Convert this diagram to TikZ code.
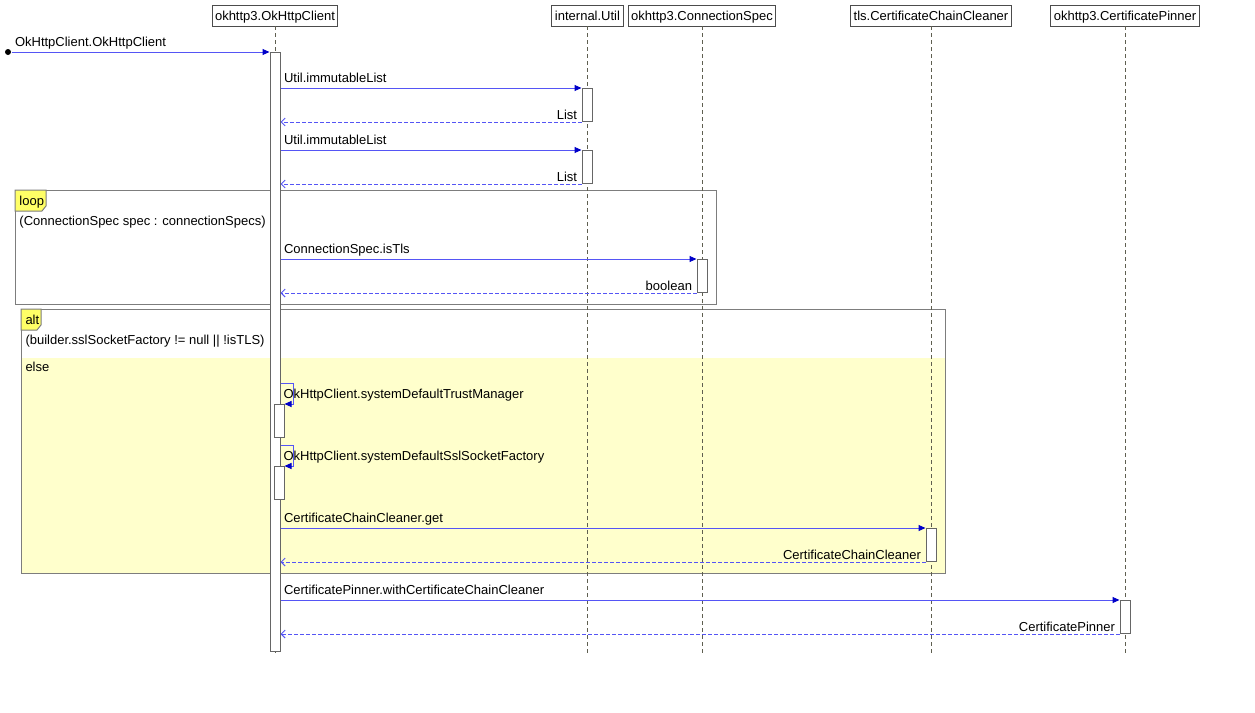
\documentclass[tikz,border=0pt]{standalone}
\usepackage{fontspec}
\setmainfont{Liberation Sans}
\usetikzlibrary{arrows.meta}
\definecolor{msgline}{RGB}{85,85,245}
\definecolor{msgtip}{RGB}{0,0,200}
\definecolor{lifecol}{RGB}{95,95,80}
\definecolor{framecol}{RGB}{125,125,125}
\definecolor{tabcol}{RGB}{255,255,102}
\definecolor{elsecol}{RGB}{255,255,204}
\tikzset{
  txt/.style={font=\fontsize{13pt}{15pt}\selectfont, inner sep=0pt},
  head/.style={txt, draw=black!70, fill=white, minimum height=21pt, inner xsep=3pt,
    text height=11pt, text depth=2pt},
  act/.style={draw=black!60, fill=white, minimum width=10pt, inner sep=0pt, anchor=north},
  lifeline/.style={draw=lifecol, dash pattern=on 4pt off 3pt},
  call/.style={draw=msgline, -{Triangle[length=7pt,width=6pt,color=msgtip]}},
  ret/.style={draw=msgline, dash pattern=on 4pt off 2pt,
    -{Straight Barb[length=4pt,width=8pt,color=msgline]}},
  lbl/.style={txt, anchor=base west, xshift=3pt, yshift=6pt},
  rlbl/.style={txt, anchor=base east, xshift=-4pt, yshift=3pt},
  frame/.style={draw=framecol},
  tab/.style={draw=framecol, fill=tabcol},
}
\begin{document}
\begin{tikzpicture}[x=1pt,y=-1pt,line width=1pt]
\useasboundingbox (0,0) rectangle (1255,712);
% combined fragments
\draw[black!40, line width=1.2pt] (16,304.6) -- (716.6,304.6) -- (716.6,191);
\draw[black!40, line width=1.2pt] (22,573.6) -- (945.6,573.6) -- (945.6,310);
\draw[frame] (15,190) rectangle (716,304);
\draw[frame] (21,309) rectangle (945,573);
\fill[elsecol] (21.5,358) rectangle (944.5,572.5);
\draw[tab] (15,190) -- (46,190) -- (46,206) -- (42,211) -- (15,211) -- cycle;
\draw[tab] (21,309) -- (41,309) -- (41,325) -- (37,330) -- (21,330) -- cycle;
\node[txt, anchor=base west] (loopname) at (19,205) {loop};
\node[txt, anchor=base west] (loopcond) at (19,225) {(ConnectionSpec spec : connectionSpecs)};
\node[txt, anchor=base west] (altname) at (25,324) {alt};
\node[txt, anchor=base west] (altcond) at (25,344) {(builder.sslSocketFactory != null || !isTLS)};
\node[txt, anchor=base west] (altelse) at (25,371) {else};

% participants
\node[head] (hclient) at (275,15.5) {okhttp3.OkHttpClient};
\node[head] (hutil) at (587.5,15.5) {internal.Util};
\node[head] (hspec) at (702,15.5) {okhttp3.ConnectionSpec};
\node[head] (hcleaner) at (931,15.5) {tls.CertificateChainCleaner};
\node[head] (hpinner) at (1125,15.5) {okhttp3.CertificatePinner};
\foreach \p/\x in {hclient/275,hutil/587,hspec/702,hcleaner/931,hpinner/1125}
  \draw[lifeline] (\x,26) -- (\x,655);

% activations
\node[act, minimum height=599pt] (c0) at (275,52) {};
\node[act, minimum height=33pt] (u1) at (587,88) {};
\node[act, minimum height=33pt] (u2) at (587,150) {};
\node[act, minimum height=33pt] (s1) at (702,259) {};
\node[act, minimum height=33pt] (c1) at (279,404) {};
\node[act, minimum height=33pt] (c2) at (279,466) {};
\node[act, minimum height=33pt] (k1) at (931,528) {};
\node[act, minimum height=33pt] (p1) at (1125,600) {};

% messages
\node[circle, fill=black, inner sep=0pt, minimum size=6pt] (start) at (8,52) {};
\draw[call] (start) -- (c0.north west) node[lbl, pos=0] {OkHttpClient.OkHttpClient};
\draw[call] (c0.east |- u1.north) -- (u1.north west) node[lbl, pos=0] {Util.immutableList};
\draw[ret] (u1.south west) -- (c0.east |- u1.south) node[rlbl, pos=0] {List};
\draw[call] (c0.east |- u2.north) -- (u2.north west) node[lbl, pos=0] {Util.immutableList};
\draw[ret] (u2.south west) -- (c0.east |- u2.south) node[rlbl, pos=0] {List};
\draw[call] (c0.east |- s1.north) -- (s1.north west) node[lbl, pos=0] {ConnectionSpec.isTls};
\draw[ret] (s1.south west) -- (c0.east |- s1.south) node[rlbl, pos=0] {boolean};
\draw[call] (c0.east |- 0,383) -- ++(13,0) |- (c1.north east);
\node[txt, anchor=base west] (m1) at (283,398) {OkHttpClient.systemDefaultTrustManager};
\draw[call] (c0.east |- 0,445) -- ++(13,0) |- (c2.north east);
\node[txt, anchor=base west] (m2) at (283,460) {OkHttpClient.systemDefaultSslSocketFactory};
\draw[call] (c0.east |- k1.north) -- (k1.north west) node[lbl, pos=0] {CertificateChainCleaner.get};
\draw[ret] (k1.south west) -- (c0.east |- k1.south) node[rlbl, pos=0] {CertificateChainCleaner};
\draw[call] (c0.east |- p1.north) -- (p1.north west) node[lbl, pos=0] {CertificatePinner.withCertificateChainCleaner};
\draw[ret] (p1.south west) -- (c0.east |- p1.south) node[rlbl, pos=0] {CertificatePinner};
\end{tikzpicture}
\end{document}
